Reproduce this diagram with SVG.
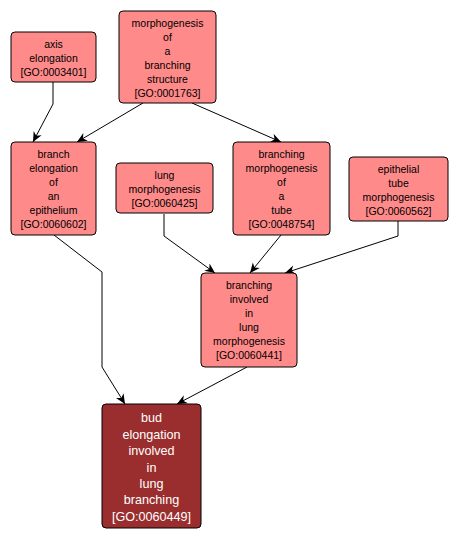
<svg xmlns="http://www.w3.org/2000/svg" width="457" height="541" viewBox="0 0 457 541">
<defs>
<style>
.n rect{fill:#ff8a8a;stroke:#000;stroke-width:1}
.d rect{fill:#9a2e2e;stroke:#000;stroke-width:1}
.n text{font-family:"Liberation Sans",Arial,sans-serif;font-size:10.5px;fill:#000;text-anchor:middle}
.d text{font-family:"Liberation Sans",Arial,sans-serif;font-size:12.6px;fill:#fff;text-anchor:middle}
.e path{fill:none;stroke:#000;stroke-width:1;marker-end:url(#ah)}
</style>
<marker id="ah" viewBox="0 0 10 10" refX="10" refY="5" markerWidth="10" markerHeight="10" markerUnits="userSpaceOnUse" orient="auto">
<path d="M0,0.5 L10,5 L0,9.5 L3,5 z" fill="#000"/>
</marker>
</defs>
<rect width="457" height="541" fill="#fff"/>
<g id="edges" class="e">
<path d="M53,82 V104 L33,142"/>
<path d="M143,103 L77,142"/>
<path d="M192,103 L281,142"/>
<path d="M54,235 L102,272 V367 L125,404"/>
<path d="M164,214 V236 L215,273"/>
<path d="M281,235 L250,273"/>
<path d="M398,221 V236 L285,273"/>
<path d="M247,367 L177,404"/>
</g>
<g id="GO0003401" class="n">
<rect x="11" y="32" width="85" height="50" rx="4"/>
<text x="53.5" y="47.7">axis</text>
<text x="53.5" y="61.7">elongation</text>
<text x="53.5" y="75.7">[GO:0003401]</text>
</g>
<g id="GO0001763" class="n">
<rect x="119" y="11" width="97" height="92" rx="4"/>
<text x="167.5" y="26.7">morphogenesis</text>
<text x="167.5" y="40.7">of</text>
<text x="167.5" y="54.7">a</text>
<text x="167.5" y="68.7">branching</text>
<text x="167.5" y="82.7">structure</text>
<text x="167.5" y="96.7">[GO:0001763]</text>
</g>
<g id="GO0060602" class="n">
<rect x="11" y="142" width="85" height="93" rx="4"/>
<text x="53.5" y="158.2">branch</text>
<text x="53.5" y="172.2">elongation</text>
<text x="53.5" y="186.2">of</text>
<text x="53.5" y="200.2">an</text>
<text x="53.5" y="214.2">epithelium</text>
<text x="53.5" y="228.2">[GO:0060602]</text>
</g>
<g id="GO0060425" class="n">
<rect x="116" y="163" width="97" height="50" rx="4"/>
<text x="164.5" y="178.7">lung</text>
<text x="164.5" y="192.7">morphogenesis</text>
<text x="164.5" y="206.7">[GO:0060425]</text>
</g>
<g id="GO0048754" class="n">
<rect x="233" y="142" width="97" height="93" rx="4"/>
<text x="281.5" y="158.2">branching</text>
<text x="281.5" y="172.2">morphogenesis</text>
<text x="281.5" y="186.2">of</text>
<text x="281.5" y="200.2">a</text>
<text x="281.5" y="214.2">tube</text>
<text x="281.5" y="228.2">[GO:0048754]</text>
</g>
<g id="GO0060562" class="n">
<rect x="349" y="157" width="99" height="64" rx="4"/>
<text x="398.5" y="172.7">epithelial</text>
<text x="398.5" y="186.7">tube</text>
<text x="398.5" y="200.7">morphogenesis</text>
<text x="398.5" y="214.7">[GO:0060562]</text>
</g>
<g id="GO0060441" class="n">
<rect x="201" y="273" width="96" height="94" rx="4"/>
<text x="249" y="289.2">branching</text>
<text x="249" y="303.2">involved</text>
<text x="249" y="317.2">in</text>
<text x="249" y="331.2">lung</text>
<text x="249" y="345.2">morphogenesis</text>
<text x="249" y="359.2">[GO:0060441]</text>
</g>
<g id="GO0060449" class="d">
<rect x="102" y="404" width="99" height="124" rx="4"/>
<text x="151.5" y="422.4">bud</text>
<text x="151.5" y="438.8">elongation</text>
<text x="151.5" y="455.2">involved</text>
<text x="151.5" y="471.6">in</text>
<text x="151.5" y="488">lung</text>
<text x="151.5" y="504.4">branching</text>
<text x="151.5" y="520.8">[GO:0060449]</text>
</g>
</svg>
